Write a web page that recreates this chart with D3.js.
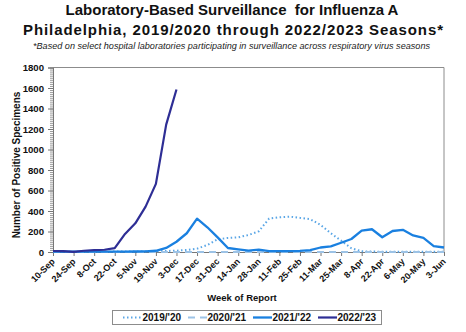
<!DOCTYPE html>
<html>
<head>
<meta charset="utf-8">
<script src="https://cdn.jsdelivr.net/npm/d3@7"></script>
<style>
  html, body { margin: 0; padding: 0; background: #fff; }
  svg { display: block; font-family: "Liberation Sans", Arial, sans-serif; }
</style>
</head>
<body>
<svg id="chart" width="466" height="332"></svg>
<script>
// Week-of-report labels (every week; only every second one is labelled)
const weeks = ["10-Sep","17-Sep","24-Sep","1-Oct","8-Oct","15-Oct","22-Oct","29-Oct","5-Nov","12-Nov",
  "19-Nov","26-Nov","3-Dec","10-Dec","17-Dec","24-Dec","31-Dec","7-Jan","14-Jan","21-Jan",
  "28-Jan","4-Feb","11-Feb","18-Feb","25-Feb","4-Mar","11-Mar","18-Mar","25-Mar","1-Apr",
  "8-Apr","15-Apr","22-Apr","29-Apr","6-May","13-May","20-May","27-May","3-Jun"];

// Positive influenza A specimens per week, by season
const s2019 = [2,2,2,2,3,3,4,5,5,6,8,10,13,20,33,68,124,137,143,166,
  202,326,339,345,333,320,264,183,111,36,7,4,3,3,3,3,3,3,3];
const s2020 = [1,1,1,1,1,1,1,1,1,1,1,1,1,1,1,1,1,1,1,1,
  1,1,1,1,1,1,1,1,1,1,1,1,1,1,1,1,1,1,1];
const s2021 = [3,3,3,3,3,3,3,4,5,7,12,40,100,183,325,241,143,39,26,13,
  23,8,8,8,10,18,44,55,90,127,208,222,144,205,216,162,137,58,44];
const s2022 = [10,8,2,12,18,22,38,176,280,443,665,1243,1585];

const seasons = ["2019/'20","2020/'21","2021/'22","2022/'23"];
const yTicks = [0,200,400,600,800,1000,1200,1400,1600,1800];

const seriesStyle = [
  { values: s2019, color: "#5aa6e6", width: 2, dash: "1.5,2.5" },
  { values: s2020, color: "#9dc3e6", width: 2, dash: "7,5" },
  { values: s2021, color: "#1a80e0", width: 2.3, dash: null },
  { values: s2022, color: "#2e2e95", width: 2.2, dash: null }
];

const svg = d3.select("#chart");
const m = { left: 53, right: 444, top: 67.5, bottom: 252 };

const x = d3.scalePoint().domain(weeks).range([m.left, m.right]);
const y = d3.scaleLinear().domain([0, 1800]).range([m.bottom, m.top]);

// Titles
svg.append("text").attr("x", 232).attr("y", 15).attr("text-anchor", "middle")
  .attr("font-size", 15).attr("font-weight", "bold").attr("fill", "#111")
  .style("white-space", "pre")
  .text("Laboratory-Based Surveillance  for Influenza A");
svg.append("text").attr("x", 23).attr("y", 35)
  .attr("font-size", 15).attr("font-weight", "bold").attr("fill", "#111")
  .attr("textLength", 420).attr("lengthAdjust", "spacing")
  .text("Philadelphia, 2019/2020 through 2022/2023 Seasons*");
svg.append("text").attr("x", 33).attr("y", 49)
  .attr("font-size", 8.6).attr("font-style", "italic").attr("fill", "#222")
  .attr("textLength", 397).attr("lengthAdjust", "spacingAndGlyphs")
  .text("*Based on select hospital laboratories participating in surveillance across respiratory virus seasons");

// Plot frame (top and right edges)
svg.append("path")
  .attr("d", `M${m.left},${m.top}H${m.right}V${m.bottom}`)
  .attr("fill", "none").attr("stroke", "#8c8c8c").attr("stroke-width", 1);

// Y axis with minor ticks every 20
const yMinor = d3.range(0, 1801, 20);
svg.append("g").attr("transform", `translate(${m.left},0)`)
  .call(d3.axisLeft(y).tickValues(yMinor).tickSize(3).tickFormat(""))
  .call(g => g.selectAll("line").attr("stroke", "#9a9a9a"))
  .call(g => g.select(".domain").remove());
const yAxis = svg.append("g").attr("transform", `translate(${m.left},0)`)
  .call(d3.axisLeft(y).tickValues(yTicks).tickSize(5).tickPadding(4).tickFormat(d3.format("d")));
yAxis.select(".domain").attr("stroke", "#777");
yAxis.selectAll("line").attr("stroke", "#777");
yAxis.selectAll("text").attr("font-size", 9.6).attr("font-weight", "bold").attr("fill", "#111")
  .attr("font-family", "Liberation Sans, Arial, sans-serif");

// X axis
const xAxis = svg.append("g").attr("transform", `translate(0,${m.bottom})`)
  .call(d3.axisBottom(x).tickValues(weeks.filter((d, i) => i % 2 === 0)).tickSize(4).tickFormat(d => d));
xAxis.select(".domain").attr("stroke", "#777");
xAxis.selectAll("line").attr("stroke", "#777");
xAxis.selectAll("text")
  .attr("font-size", 9).attr("font-weight", "bold").attr("fill", "#111")
  .attr("font-family", "Liberation Sans, Arial, sans-serif")
  .attr("text-anchor", "end").attr("dy", 0).attr("y", 0)
  .attr("transform", "translate(2,10) rotate(-45)");

// Axis titles
svg.append("text").attr("transform", "translate(20,165) rotate(-90)").attr("text-anchor", "middle")
  .attr("font-size", 10).attr("font-weight", "bold").attr("fill", "#111")
  .text("Number of Positive Specimens");
svg.append("text").attr("x", 242).attr("y", 301).attr("text-anchor", "middle")
  .attr("font-size", 9.5).attr("font-weight", "bold").attr("fill", "#111")
  .text("Week of Report");

// Lines
const line = d3.line().x((d, i) => x(weeks[i])).y(d => y(d));
seriesStyle.forEach(s => {
  svg.append("path").datum(s.values)
    .attr("d", line).attr("fill", "none")
    .attr("stroke", s.color).attr("stroke-width", s.width)
    .attr("stroke-dasharray", s.dash)
    .attr("stroke-linejoin", "round");
});

// Legend
const legend = svg.append("g");
legend.append("rect").attr("x", 112.5).attr("y", 310.5).attr("width", 269).attr("height", 14)
  .attr("fill", "#fff").attr("stroke", "#8c8c8c");
const legendX = [123, 188, 253, 318];
seriesStyle.forEach((s, i) => {
  legend.append("line").attr("x1", legendX[i]).attr("x2", legendX[i] + 19)
    .attr("y1", 317.5).attr("y2", 317.5)
    .attr("stroke", s.color).attr("stroke-width", s.width).attr("stroke-dasharray", s.dash);
  legend.append("text").attr("x", legendX[i] + 19.5).attr("y", 321)
    .attr("font-size", 10).attr("font-weight", "bold").attr("fill", "#111")
    .text(seasons[i]);
});
</script>
</body>
</html>
